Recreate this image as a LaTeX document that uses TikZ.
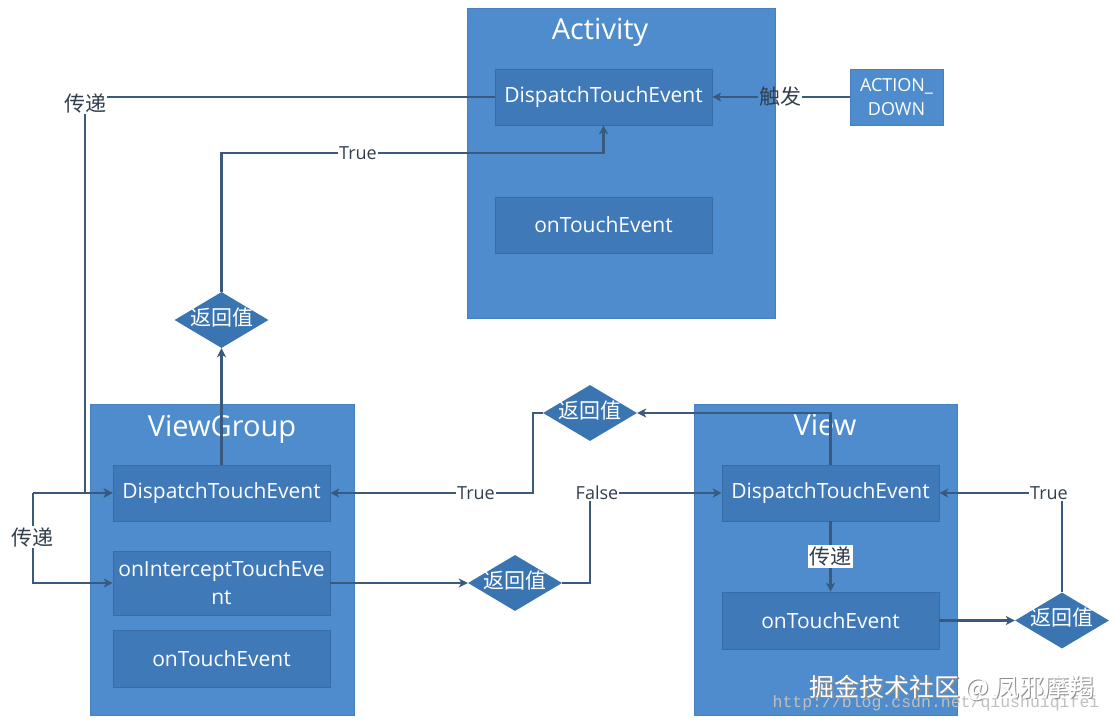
\documentclass[tikz,border=0pt]{standalone}
\usepackage{fontspec}
\setmainfont{Open Sans}
\newfontfamily\cjk{Noto Sans CJK SC}
\newfontfamily\urlfont{Liberation Mono}
\usetikzlibrary{shapes.geometric,arrows.meta}
\definecolor{outerblue}{RGB}{78,140,205}
\definecolor{outerline}{RGB}{70,128,190}
\definecolor{innerblue}{RGB}{64,121,184}
\definecolor{innerline}{RGB}{56,108,166}
\definecolor{diablue}{RGB}{58,116,177}
\definecolor{linec}{RGB}{58,90,125}
\definecolor{labelc}{RGB}{50,62,78}
\tikzset{
  outerbox/.style={draw=outerline, line width=0.8pt, fill=outerblue, inner sep=0pt},
  innerbox/.style={draw=innerline, line width=0.6pt, fill=innerblue, text=white, inner sep=0pt,
    minimum width=217pt, font=\fontsize{21}{28}\selectfont, align=center},
  titletext/.style={text=white, font=\fontsize{29}{34}\selectfont, inner sep=0pt, anchor=base},
  decision/.style={diamond, shape aspect=1.68, fill=diablue, text=white, inner sep=0pt,
    text height=12pt, text depth=2pt, minimum width=94pt,
    minimum height=56pt, font=\cjk\fontsize{21}{22}\selectfont},
  lbl/.style={text=labelc, inner sep=1pt, font=\fontsize{18}{20}\selectfont},
  cjklbl/.style={text=labelc, inner sep=1pt, font=\cjk\fontsize{21}{23}\selectfont},
  conn/.style={draw=linec, line width=2.4pt},
  arr/.style={conn, -{Stealth[length=9pt,width=9pt,inset=2.5pt]}},
}
\begin{document}
\begin{tikzpicture}[x=1pt,y=-1pt]
\useasboundingbox (0,0) rectangle (1115,723);
\fill[white] (0,0) rectangle (1115,723);

% containers
\node[outerbox, minimum width=308pt, minimum height=310pt] (act) at (621,163) {};
\node[outerbox, minimum width=264pt, minimum height=311pt] (vg) at (222,559.5) {};
\node[outerbox, minimum width=263pt, minimum height=311pt] (vw) at (825.5,559.5) {};
\node[outerbox, minimum width=93pt, minimum height=56pt, text=white,
      font=\fontsize{18}{24}\selectfont, align=center] (ad) at (896.5,97) {ACTION\_\\DOWN};

\node[titletext] (actt) at (600,39) {Activity};
\node[titletext] (vgt) at (222,436) {ViewGroup};
\node[titletext] (vwt) at (825,435) {View};

% inner boxes
\node[innerbox, minimum height=56pt] (actd) at (603.5,97) {DispatchTouchEvent};
\node[innerbox, minimum height=56pt] (acto) at (603.5,225) {onTouchEvent};
\node[innerbox, minimum height=56pt] (vgd) at (221.5,493) {DispatchTouchEvent};
\node[innerbox, minimum height=64pt] (vgi) at (221.5,583) {onInterceptTouchEve\\nt};
\node[innerbox, minimum height=57pt] (vgo) at (221.5,658.5) {onTouchEvent};
\node[innerbox, minimum height=56pt] (vd) at (830.5,493) {DispatchTouchEvent};
\node[innerbox, minimum height=57pt] (vo) at (830.5,620.5) {onTouchEvent};

% decisions
\node[decision] (d1) at (221.5,320) {返回值};
\node[decision] (d2) at (515,583) {返回值};
\node[decision] (d3) at (590,413) {返回值};
\node[decision] (d4) at (1062,620.5) {返回值};

% labels
\node[cjklbl] (l1) at (85,103) {传递};
\node[cjklbl] (l2) at (33,537) {传递};
\node[cjklbl] (chu) at (780,97) {触发};
\node[lbl] (t1) at (358,153) {True};
\node[lbl] (t3) at (476,493) {True};
\node[lbl] (f1) at (597,493) {False};
\node[lbl] (t4) at (1049,493) {True};
\coordinate (lb) at (33,493);

% connectors
\draw[conn] (ad.west) -- (chu.east);
\draw[arr] (chu.west) -- (actd.east);
\draw[conn] (actd.west) -- (actd.west -| l1.east);
\draw[arr] (l1.south) |- (vgd.west);
\draw[arr] (lb) -- (vgd.west);
\draw[conn] (lb) -- (l2.north);
\draw[arr] (l2.south) |- (vgi.west);
\draw[arr] (vgd.north) -- (d1.south);
\draw[conn] (d1.north) |- (t1.west);
\draw[arr] (t1.east) -| (actd.south);
\draw[arr] (vgi.east) -- (d2.west);
\draw[conn] (d2.east) -| ([xshift=-7pt]f1.south);
\draw[arr] (f1.east) -- (vd.west);
\draw[arr] (vd.south) -- node[cjklbl, fill=white, inner sep=1.5pt] {传递} (vo.north);
\draw[arr] (vo.east) -- (d4.west);
\draw[conn] (d4.north) -- (d4.north |- t4.south);
\draw[arr] (t4.west) -- (vd.east);
\draw[arr] (vd.north) |- (d3.east);
\draw[conn] (d3.west) -| ([xshift=37pt]t3.east) -- (t3.east);
\draw[arr] (t3.west) -- (vgd.east);

% watermark
\node[text=black!25, font=\urlfont\fontsize{16.5}{18}\selectfont, inner sep=0pt] (url) at (936,703) {http://blog.csdn.net/qiushuiqifei};
\node[text=black!45, font=\cjk\fontsize{25}{28}\selectfont, inner sep=0pt] (wm0) at (953.5,689.5) {掘金技术社区 @ 凤邪摩羯};
\node[text=white, font=\cjk\fontsize{25}{28}\selectfont, inner sep=0pt] (wm) at (952,688) {掘金技术社区 @ 凤邪摩羯};
\end{tikzpicture}
\end{document}
